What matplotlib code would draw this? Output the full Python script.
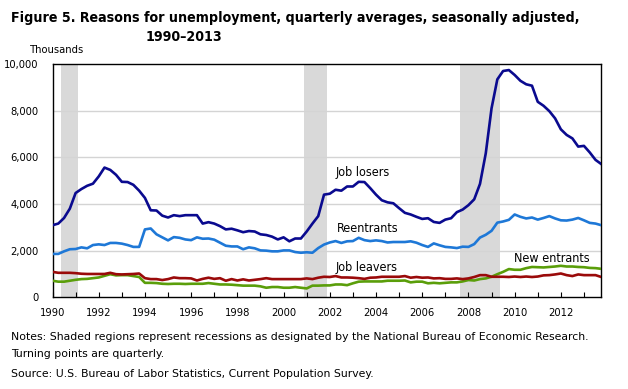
import numpy as np
import matplotlib
matplotlib.use('Agg')
import matplotlib.pyplot as plt
from matplotlib.ticker import MultipleLocator, FuncFormatter

# quarterly, 1990Q1 - 2013Q4 (thousands)
JobLosers = [
    3090, 3160, 3400, 3800, 4470, 4640, 4780, 4870,
    5180, 5560, 5460, 5250, 4950, 4940, 4820, 4570,
    4260, 3730, 3720, 3500, 3420, 3520, 3480, 3520,
    3520, 3520, 3160, 3220, 3160, 3050, 2910, 2940,
    2870, 2790, 2840, 2820, 2700, 2670, 2600, 2480,
    2570, 2400, 2520, 2520, 2820, 3160, 3480, 4400,
    4440, 4610, 4570, 4750, 4750, 4950, 4940, 4680,
    4400, 4160, 4070, 4030, 3820, 3620, 3550, 3450,
    3360, 3390, 3230, 3190, 3330, 3390, 3650, 3760,
    3950, 4200, 4860, 6170, 8100, 9340, 9700, 9740,
    9530, 9280, 9130, 9070, 8380, 8210, 7980, 7670,
    7200, 6960, 6810, 6460, 6490, 6210, 5890, 5710]
Reentrants = [
    1860, 1860, 1970, 2060, 2070, 2140, 2100, 2240,
    2270, 2240, 2330, 2330, 2300, 2240, 2160, 2160,
    2910, 2950, 2700, 2570, 2440, 2580, 2550, 2480,
    2450, 2570, 2510, 2520, 2470, 2340, 2210, 2180,
    2180, 2060, 2140, 2100, 2010, 2000, 1970, 1970,
    2010, 2010, 1940, 1910, 1930, 1910, 2110, 2260,
    2350, 2410, 2330, 2400, 2410, 2550, 2450, 2410,
    2440, 2410, 2350, 2370, 2370, 2370, 2400, 2340,
    2240, 2160, 2310, 2230, 2160, 2140, 2110, 2170,
    2160, 2280, 2560, 2680, 2850, 3200, 3250, 3320,
    3550, 3450, 3380, 3420, 3330, 3400, 3480, 3380,
    3300, 3290, 3330, 3400, 3300, 3190, 3160, 3090]
JobLeavers = [
    1090, 1050, 1050, 1050, 1035, 1010, 1000, 1000,
    1000, 1000, 1050, 990, 980, 990, 1000, 1020,
    820, 780, 780, 740, 780, 850, 820, 820,
    810, 720, 790, 840, 790, 820, 710, 780,
    720, 770, 720, 750, 780, 820, 780, 780,
    780, 780, 780, 780, 810, 780, 840, 880,
    870, 910, 850, 850, 840, 820, 790, 840,
    850, 880, 880, 880, 880, 910, 840, 870,
    840, 850, 810, 820, 790, 790, 810, 780,
    810, 870, 950, 950, 880, 880, 880, 870,
    890, 870, 890, 870, 890, 940, 950, 980,
    1020, 950, 910, 980, 950, 950, 950, 870]
NewEntrants = [
    710, 670, 670, 710, 750, 780, 790, 820,
    850, 920, 990, 940, 950, 950, 910, 870,
    620, 620, 610, 580, 570, 580, 580, 570,
    580, 580, 580, 610, 580, 550, 550, 540,
    520, 500, 500, 500, 470, 410, 440, 440,
    410, 410, 440, 410, 380, 500, 500, 510,
    510, 550, 550, 520, 600, 670, 680, 680,
    680, 680, 710, 710, 710, 720, 640, 670,
    670, 600, 620, 600, 620, 640, 640, 680,
    740, 720, 780, 810, 880, 990, 1090, 1210,
    1180, 1180, 1250, 1300, 1290, 1280, 1300, 1320,
    1350, 1320, 1320, 1300, 1290, 1260, 1250, 1220]
# recessions (first and last quarter)
Recessions = [(1990.5, 1991.0), (2001.0, 2001.75), (2007.75, 2009.25)]

Quarters = 1990 + np.arange(len(JobLosers)) / 4.0

plt.rcParams['font.family'] = ['DejaVu Sans']
plt.rcParams['font.stretch'] = 'condensed'

fig = plt.figure(figsize=(6.28, 3.89), dpi=100)
W, H = 628.0, 389.0
ax = fig.add_axes([52.5 / W, 1 - 297.3 / H, (601.3 - 52.5) / W, (297.3 - 64) / H])

# 衰退期阴影
for r0, r1 in Recessions:
    ax.axvspan(r0 - 0.125, r1 + 0.125, color='#d9d9d9', lw=0, zorder=0)

for yv in [2000, 4000, 6000, 8000]:
    ax.axhline(yv, color='#d4d4d4', lw=1, zorder=1)

ax.plot(Quarters, JobLosers, c='#0a0a8f', lw=1.9, zorder=3)
ax.plot(Quarters, Reentrants, c='#1e78d7', lw=1.9, zorder=3)
ax.plot(Quarters, NewEntrants, c='#5a9e0a', lw=1.9, zorder=3)
ax.plot(Quarters, JobLeavers, c='#9a0a0a', lw=1.9, zorder=3)

ax.set_xlim(1990, 2013.75)
ax.set_ylim(0, 10000)
ax.xaxis.set_major_locator(MultipleLocator(2))
ax.xaxis.set_minor_locator(MultipleLocator(1))
ax.yaxis.set_major_locator(MultipleLocator(2000))
ax.yaxis.set_major_formatter(FuncFormatter(lambda v, p: '{:,.0f}'.format(v)))
ax.tick_params(axis='x', which='both', direction='in', length=3.5, width=0.8,
               pad=8, labelsize=8)
ax.tick_params(axis='y', length=0, pad=10, labelsize=8)
for sp in ax.spines.values():
    sp.set_linewidth(1.0)
    sp.set_color('black')

# 曲线标注
fs = 9
ax.text(2002.27, 5370, 'Job losers', fontsize=fs, va='center')
ax.text(2002.3, 2970, 'Reentrants', fontsize=fs, va='center')
ax.text(2002.23, 1260, 'Job leavers', fontsize=fs, va='center')
ax.text(2009.98, 1680, 'New entrants', fontsize=fs, va='center')

fig.text(11 / W, 1 - 18 / H,
         'Figure 5. Reasons for unemployment, quarterly averages, seasonally adjusted,',
         fontsize=10.2, fontweight='bold', va='center')
fig.text(146 / W, 1 - 37 / H, '1990\u20132013',
         fontsize=10.2, fontweight='bold', va='center')
fig.text(57 / W, 1 - 50 / H, 'Thousands', fontsize=8, va='center', ha='center')

nfs = 7.85
fig.text(11 / W, 1 - 337 / H,
         'Notes: Shaded regions represent recessions as designated by the National Bureau of Economic Research.',
         fontsize=nfs, va='center', stretch='normal')
fig.text(11 / W, 1 - 354 / H, 'Turning points are quarterly.', fontsize=nfs,
         va='center', stretch='normal')
fig.text(11 / W, 1 - 374 / H,
         'Source: U.S. Bureau of Labor Statistics, Current Population Survey.',
         fontsize=nfs, va='center', stretch='normal')

fig.savefig('out.png', dpi=100)
plt.close()
